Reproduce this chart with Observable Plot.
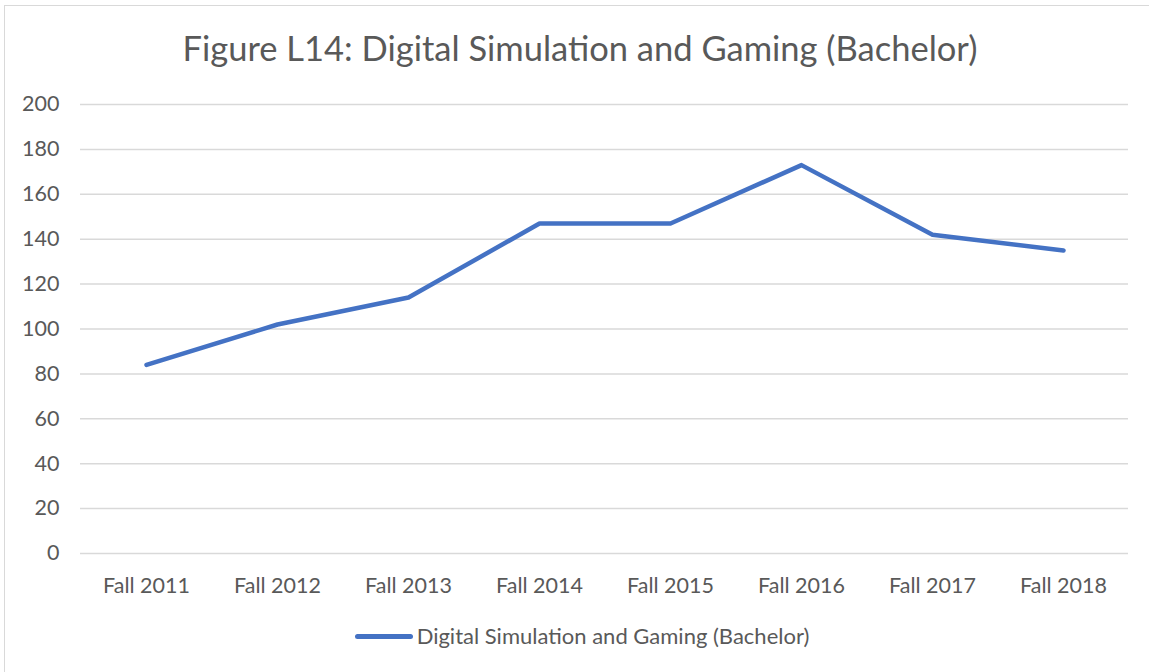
<!DOCTYPE html>
<html>
<head>
<meta charset="utf-8">
<script src="https://cdn.jsdelivr.net/npm/d3@7"></script>
<script src="https://cdn.jsdelivr.net/npm/@observablehq/plot@0.6"></script>
<style>
  html, body { margin: 0; padding: 0; background: #fff; }
  #frame { position: relative; width: 1149px; height: 672px; overflow: hidden; font-family: Lato, "Open Sans", sans-serif; color: #595959; }
  #border { position: absolute; left: 4px; top: 5px; width: 1160px; height: 700px; border: 1px solid #d9d9d9; box-sizing: border-box; }
  #title { position: absolute; left: 0; top: 25px; width: 1160px; text-align: center; font-size: 34.5px; line-height: 46px; color: #595959; }
  #chart { position: absolute; left: 0; top: 80px; }
  #legend { position: absolute; left: 0; top: 622px; width: 1164px; display: flex; justify-content: center; align-items: center; font-size: 22px; line-height: 28px; }
  #legend .sw { display: inline-block; width: 58px; height: 5px; border-radius: 3px; background: #4472C4; margin-right: 4px; }
</style>
</head>
<body>
<div id="frame">
  <div id="border"></div>
  <div id="title"></div>
  <div id="chart"></div>
  <div id="legend"></div>
</div>
<script>
const titleText = "Figure L14: Digital Simulation and Gaming (Bachelor)";
const seriesName = "Digital Simulation and Gaming (Bachelor)";
const categories = ["Fall 2011", "Fall 2012", "Fall 2013", "Fall 2014", "Fall 2015", "Fall 2016", "Fall 2017", "Fall 2018"];
const values = [84, 102, 114, 147, 147, 173, 142, 135];
const yTicks = [0, 20, 40, 60, 80, 100, 120, 140, 160, 180, 200];

const data = categories.map((c, i) => ({term: c, value: values[i]}));

document.getElementById("title").textContent = titleText;

const plot = Plot.plot({
  width: 1149,
  height: 530,
  marginTop: 24,
  marginBottom: 57,
  marginLeft: 80,
  marginRight: 21,
  style: { fontFamily: "Lato, 'Open Sans', sans-serif", fontSize: "21.5px", color: "#595959", background: "transparent", overflow: "visible" },
  x: { type: "point", domain: categories, padding: 0.5, label: null },
  y: { domain: [0, 200], label: null },
  marks: [
    Plot.gridY(yTicks, { stroke: "#d9d9d9", strokeOpacity: 1, strokeWidth: 1.5 }),
    Plot.axisY(yTicks, { tickSize: 0, tickPadding: 21, label: null, fill: "#595959" }),
    Plot.axisX({ tickSize: 0, tickPadding: 24, label: null, fill: "#595959" }),
    Plot.line(data, { x: "term", y: "value", stroke: "#4472C4", strokeWidth: 4.5, strokeLinecap: "round", strokeLinejoin: "round" })
  ]
});
document.getElementById("chart").appendChild(plot);

const legend = document.getElementById("legend");
const sw = document.createElement("span");
sw.className = "sw";
const lt = document.createElement("span");
lt.textContent = seriesName;
legend.appendChild(sw);
legend.appendChild(lt);
</script>
</body>
</html>
